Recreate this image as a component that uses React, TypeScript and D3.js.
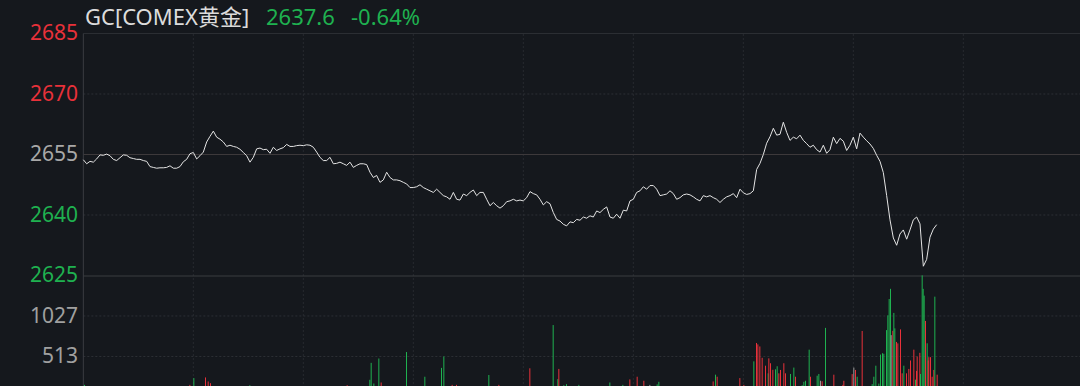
import * as d3 from "d3"

// price, one sample per slot (slot = fixed time step across the session)
const prices = [
  2653.7, 2652.7, 2653.3, 2653.1, 2653.9, 2654.9, 2654.8, 2655.1, 2654.7, 2653.8,
  2653.5, 2654.2, 2654.9, 2654.8, 2654.2, 2654.0, 2653.8, 2653.8, 2653.5, 2653.3,
  2652.0, 2651.8, 2651.6, 2651.7, 2651.7, 2651.8, 2652.2, 2651.6, 2651.6, 2652.0,
  2653.2, 2653.8, 2655.2, 2655.5, 2653.9, 2654.7, 2655.6, 2658.1, 2659.5, 2660.8,
  2659.3, 2658.8, 2658.1, 2657.0, 2657.3, 2657.0, 2656.8, 2656.3, 2655.5, 2654.7,
  2653.1, 2654.3, 2656.4, 2656.6, 2656.2, 2656.3, 2655.3, 2656.8, 2656.0, 2656.4,
  2656.7, 2657.5, 2657.0, 2657.0, 2657.2, 2657.3, 2657.2, 2657.4, 2657.3, 2656.8,
  2655.6, 2654.3, 2653.5, 2653.5, 2654.3, 2652.7, 2652.8, 2653.1, 2652.7, 2652.3,
  2653.1, 2651.8, 2652.3, 2652.7, 2652.7, 2652.5, 2650.6, 2649.3, 2649.8, 2648.1,
  2648.7, 2650.6, 2649.3, 2648.7, 2648.7, 2648.5, 2648.1, 2647.7, 2646.8, 2646.8,
  2647.0, 2647.5, 2646.8, 2646.4, 2646.0, 2645.6, 2646.4, 2645.6, 2644.8, 2644.5,
  2643.9, 2645.6, 2643.9, 2643.7, 2645.2, 2644.8, 2645.6, 2646.2, 2644.8, 2645.6,
  2645.6, 2643.9, 2642.3, 2643.1, 2642.3, 2641.7, 2642.3, 2643.3, 2643.5, 2643.9,
  2643.5, 2643.7, 2643.5, 2644.3, 2645.8, 2645.3, 2645.0, 2643.9, 2642.5, 2643.3,
  2642.8, 2640.6, 2638.9, 2638.5, 2637.7, 2637.3, 2638.3, 2638.1, 2638.9, 2638.7,
  2639.5, 2639.2, 2639.8, 2639.5, 2641.0, 2640.6, 2641.4, 2642.0, 2639.5, 2639.2,
  2640.2, 2639.2, 2641.2, 2641.0, 2643.5, 2643.9, 2645.6, 2646.0, 2647.0, 2646.4,
  2647.3, 2647.3, 2646.4, 2644.8, 2645.0, 2645.2, 2646.0, 2645.3, 2643.9, 2644.3,
  2645.0, 2645.2, 2645.0, 2644.5, 2643.9, 2643.5, 2644.8, 2644.5, 2644.8, 2644.3,
  2643.9, 2643.1, 2643.9, 2644.5, 2644.8, 2645.3, 2644.3, 2646.4, 2645.5, 2645.1,
  2645.3, 2646.0, 2651.3, 2652.8, 2655.0, 2657.8, 2659.4, 2661.5, 2659.8, 2660.0,
  2663.0, 2660.5, 2658.5, 2659.3, 2658.9, 2659.8, 2658.5, 2657.7, 2656.8, 2657.3,
  2656.2, 2655.6, 2657.3, 2655.3, 2656.2, 2659.3, 2657.7, 2659.0, 2658.3, 2656.0,
  2657.3, 2659.3, 2656.4, 2660.3, 2659.3, 2658.4, 2657.6, 2656.5, 2654.8, 2653.3,
  2650.5, 2644.8, 2638.8, 2634.3, 2632.5, 2635.3, 2636.3, 2634.0, 2636.3, 2638.8,
  2639.5, 2637.8, 2627.3, 2629.0, 2634.5, 2636.5, 2637.6,
]

// volume bars: slot, volume, direction (1 up / -1 down / 0 flat)
const volSlot = [
  0.2, 31.8, 33, 36.5, 37.3, 38, 49.8, 79, 85.8, 86.2, 87, 88.5, 89.2, 96.8, 102.3,
  107.3, 108, 110.5, 111.8, 121.5, 124.5, 133.8, 140.8, 142.2, 142.5, 144, 144.8,
  148.5, 157.8, 161.7, 163.8, 166, 168, 169.8, 172, 172.5, 188.8, 189.5, 190, 196.8,
  198, 201, 201.8, 202.2, 202.8, 203.5, 204.5, 205.3, 205.5, 206, 206.7, 207.5, 208,
  208.5, 209, 210, 210.5, 212, 213, 213.5, 215.5, 216, 216.5, 217.6, 218, 220, 220.5,
  221, 221.5, 222.5, 225, 227.7, 228, 230.5, 231, 231.5, 232, 233.5, 236.5, 237,
  237.6, 238.5, 239, 239.6, 240, 240.8, 241.2, 241.6, 242, 242.2, 242.7, 243, 243.3,
  243.8, 244.2, 245, 245.5, 246, 246.8, 247.5, 248, 249, 249.5, 249.8, 250, 250.8,
  251, 251.5, 251.8, 252.1, 252.5, 253, 253.3, 253.5, 254, 254.5, 255, 255.3, 256,
]
const volValue = [
  154, 154, 240, 248, 197, 175, 150, 150, 218, 433, 171, 488, 184, 570, 257,
  369, 514, 154, 154, 279, 154, 364, 912, 227, 356, 150, 163,
  154, 184, 154, 223, 257, 206, 154, 160, 193, 197, 283, 257, 240,
  154, 452, 685, 667, 641, 497, 397, 300, 490, 428, 345, 351, 390,
  300, 343, 428, 300, 292, 373, 257, 150, 193, 206, 600, 257, 270, 292,
  206, 200, 876, 283, 154, 206, 290, 373, 343, 257, 837, 163, 257,
  397, 170, 538, 555, 548, 848, 1035, 1242, 1371, 784, 839, 1066, 870,
  698, 680, 857, 300, 397, 300, 356, 463, 600, 220, 330, 514, 560,
  292, 1542, 1371, 1285, 964, 681, 463, 505, 505, 257, 343, 1272, 283,
]
const volDir = [
  -1, 1, -1, 1, 1, 1, -1, 1, -1, -1, -1, -1, 1, -1, -1,
  -1, -1, 1, 1, -1, 1, 1, -1, -1, 1, -1, -1,
  -1, -1, -1, 1, 1, 1, 0, -1, -1, 1, -1, 1, 1,
  1, -1, 1, 1, 1, 1, 1, -1, 1, 1, 1, -1, -1,
  1, 1, 1, 1, -1, -1, 1, -1, -1, -1, -1, 1, -1, -1,
  0, 1, -1, 1, 1, 1, 1, 0, 1, -1, 1, -1, -1,
  -1, -1, -1, -1, -1, -1, -1, -1, -1, 0, 1, -1, -1,
  1, 1, 1, 1, -1, 1, 1, 1, 1, -1, 1, 1, 1,
  -1, -1, -1, -1, 1, -1, 1, 1, 1, 1, 1, -1, 1,
]

const priceTicks = [2685, 2670, 2655, 2640, 2625]
const volTicks = [1027, 513]
const prevClose = 2655
const totalSlots = 297
const gridEvery = 33

const title = "GC[COMEX黄金]"
const lastPrice = "2637.6"
const change = "-0.64%"

const W = 1080
const H = 386
const left = 83.33

const BG = "#15181d"
const RED = "#e8313a"
const GREEN = "#1fb150"
const GRID = "#272a30"
const FONT = "'Noto Sans', 'Noto Sans CJK SC', sans-serif"

export default function App() {
  const x = d3.scaleLinear().domain([0, totalSlots]).range([left, left + 990])
  const y = d3.scaleLinear().domain([2625, 2685]).range([275.5, 33.5])
  const yv = d3.scaleLinear().domain([0, 1540]).range([397, 275.5])

  const line = d3
    .line<number>()
    .x((_, i) => x(i))
    .y((d) => y(d))

  const vGrid = d3.range(gridEvery, totalSlots, gridEvery)
  const color = (d: number) => (d > 0 ? RED : d < 0 ? GREEN : "#9a9a9a")
  const tickColor = (v: number) => (v > prevClose ? RED : v < prevClose ? GREEN : "#a8a8a8")

  return (
    <>
      <style>{`body{margin:0;background:${BG}}`}</style>
      <svg width={W} height={H} style={{ display: "block", background: BG }} fontFamily={FONT}>
        <rect width={W} height={H} fill={BG} />

        {/* vertical time grid */}
        {vGrid.map((s) => (
          <line key={s} x1={x(s)} x2={x(s)} y1={34} y2={H} stroke={GRID} strokeDasharray="2 2" />
        ))}

        {/* dotted value grid */}
        {[2670, 2640].map((v) => (
          <line key={v} x1={left} x2={W} y1={y(v)} y2={y(v)} stroke="#2c2f35" strokeDasharray="2 2" />
        ))}
        {volTicks.map((v) => (
          <line key={v} x1={left} x2={W} y1={yv(v)} y2={yv(v)} stroke="#2c2f35" strokeDasharray="2 2" />
        ))}

        {/* frame lines */}
        <line x1={left} x2={W} y1={y(2685)} y2={y(2685)} stroke="#2b2e33" />
        <line x1={left} x2={W} y1={y(prevClose)} y2={y(prevClose)} stroke="#3d393b" strokeWidth={1.2} />
        <line x1={left} x2={W} y1={276} y2={276} stroke="#3a3c41" />
        <line x1={left} x2={left} y1={y(2685)} y2={H} stroke="#3a3c41" />

        {/* volume */}
        {volSlot.map((s, i) => (
          <rect
            key={i}
            x={x(s)}
            y={yv(volValue[i])}
            width={1}
            height={yv(0) - yv(volValue[i])}
            fill={color(volDir[i])}
          />
        ))}

        {/* price line */}
        <path d={line(prices) || ""} fill="none" stroke="#e4e4e4" strokeWidth={1} />

        {/* axis labels */}
        {priceTicks.map((v) => (
          <text key={v} x={78} y={y(v) + 1} textAnchor="end" dominantBaseline="middle" fontSize={21} fill={tickColor(v)}>
            {v}
          </text>
        ))}
        {volTicks.map((v) => (
          <text key={v} x={78} y={yv(v) + 1} textAnchor="end" dominantBaseline="middle" fontSize={21} fill="#a0a0a0">
            {v}
          </text>
        ))}

        {/* header */}
        <text x={85} y={25} fontSize={22} fill="#dcdcdc">{title}</text>
        <text x={266} y={25} fontSize={22} fill={GREEN}>{lastPrice}</text>
        <text x={351} y={25} fontSize={22} fill={GREEN}>{change}</text>
      </svg>
    </>
  )
}
